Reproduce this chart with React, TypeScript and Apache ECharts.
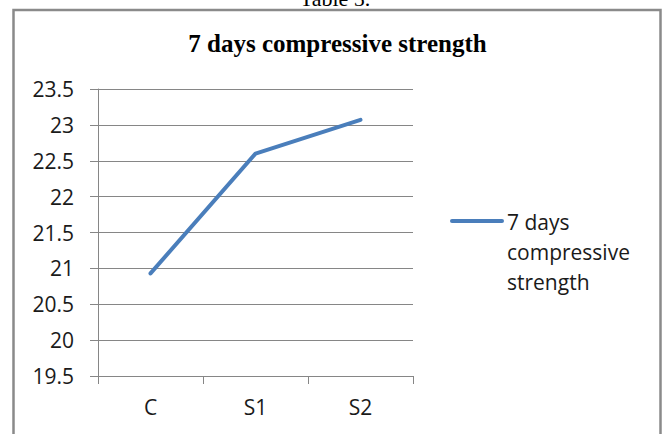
import React, { useEffect, useRef } from "react";
import * as echarts from "echarts";

const categories = ["C", "S1", "S2"];
const strengthValues = [20.93, 22.6, 23.07];
const seriesName = "7 days compressive strength";
const chartTitle = "7 days compressive strength";
const tableCaption = "Table 5.";
const legendLines = ["7 days", "compressive", "strength"];

const LINE_BLUE = "#4a7ebb";
const GRID_GRAY = "#868686";
const LABEL_FONT = "'Open Sans', sans-serif";
const SERIF_FONT = "'Liberation Serif', 'Times New Roman', serif";

export default function App() {
  const ref = useRef<HTMLDivElement>(null);

  useEffect(() => {
    if (!ref.current) return;
    const chart = echarts.init(ref.current, null, { renderer: "svg" });
    chart.setOption({
      animation: false,
      backgroundColor: "#ffffff",
      grid: { left: 98, right: 252, top: 89, bottom: 58, containLabel: false },
      xAxis: {
        type: "category",
        data: categories,
        boundaryGap: true,
        axisLine: { show: true, lineStyle: { color: GRID_GRAY, width: 1 } },
        axisTick: { show: true, length: 8, lineStyle: { color: GRID_GRAY } },
        axisLabel: {
          color: "#1a1a1a",
          fontFamily: LABEL_FONT,
          fontSize: 21,
          margin: 20,
        },
        splitLine: { show: false },
      },
      yAxis: {
        type: "value",
        min: 19.5,
        max: 23.5,
        interval: 0.5,
        axisLine: { show: true, lineStyle: { color: GRID_GRAY, width: 1 } },
        axisTick: { show: true, length: 8, lineStyle: { color: GRID_GRAY } },
        axisLabel: {
          color: "#1a1a1a",
          fontFamily: LABEL_FONT,
          fontSize: 21,
          margin: 24,
          formatter: (v: number) => String(v),
        },
        splitLine: { show: true, lineStyle: { color: GRID_GRAY, width: 1 } },
      },
      series: [
        {
          name: seriesName,
          type: "line",
          data: strengthValues,
          symbol: "none",
          lineStyle: { color: LINE_BLUE, width: 4, cap: "round", join: "round" },
          itemStyle: { color: LINE_BLUE },
        },
      ],
      graphic: [
        {
          type: "rect",
          shape: { x: 13.5, y: 10, width: 647, height: 440 },
          style: { fill: "none", stroke: "#8a8a8a", lineWidth: 2.5 },
          silent: true,
        },
        {
          type: "text",
          x: 335,
          y: 9,
          style: {
            text: tableCaption,
            fill: "#000",
            font: `22px ${SERIF_FONT}`,
            textAlign: "center",
            textVerticalAlign: "bottom",
          },
        },
        {
          type: "text",
          x: 337.5,
          y: 43,
          style: {
            text: chartTitle,
            fill: "#000",
            font: `bold 25px ${SERIF_FONT}`,
            textAlign: "center",
            textVerticalAlign: "middle",
          },
        },
        {
          type: "line",
          shape: { x1: 452, y1: 221, x2: 502, y2: 221 },
          style: { stroke: LINE_BLUE, lineWidth: 4, lineCap: "round" },
        },
        {
          type: "text",
          x: 507,
          y: 207,
          style: {
            text: legendLines.join("\n"),
            fill: "#1a1a1a",
            font: `21px ${LABEL_FONT}`,
            lineHeight: 30,
            textAlign: "left",
            textVerticalAlign: "top",
          },
        },
      ],
    });
    return () => chart.dispose();
  }, []);

  return (
    <div
      ref={ref}
      style={{ position: "absolute", left: 0, top: 0, width: 665, height: 434 }}
    />
  );
}
